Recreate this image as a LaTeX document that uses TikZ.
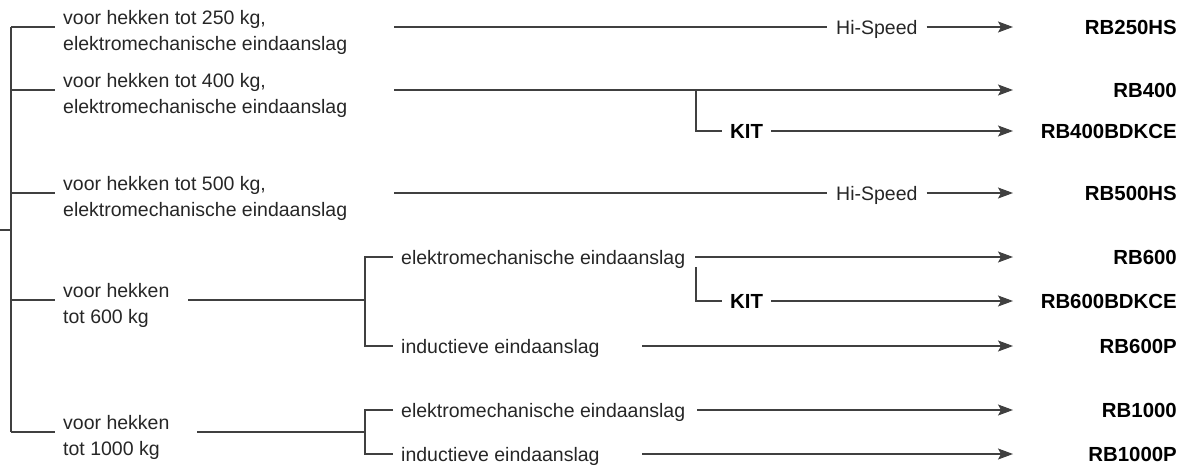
\documentclass[tikz,border=0pt]{standalone}
\usepackage{fontspec}
\setmainfont{Liberation Sans}
\usetikzlibrary{arrows.meta}
\begin{document}
\begin{tikzpicture}[x=1pt,y=-1pt,
  ln/.style={draw=black!75,line width=1.1pt},
  arr/.style={ln,-{Stealth[length=15pt,width=11pt,inset=3pt]}},
  lbl/.style={inner sep=0pt,font=\fontsize{19.5}{26}\selectfont,text=black!85,align=left,anchor=base west},
  opt/.style={inner sep=0pt,font=\fontsize{19.5}{26}\selectfont,text=black!85,text height=14pt,text depth=0pt,anchor=west},
  prod/.style={inner sep=0pt,font=\fontsize{20.4}{24}\selectfont\bfseries,text=black,text height=14.6pt,text depth=0pt,anchor=east},
  kitst/.style={inner sep=0pt,font=\fontsize{20.4}{24}\selectfont\bfseries,text=black,text height=14.6pt,text depth=0pt,anchor=west}
]
\useasboundingbox (0,0) rectangle (1180,466);
\coordinate (tip) at (1013,0);

% left tree
\coordinate (stub) at (0,230);
\coordinate (top) at (11,27);
\coordinate (bot) at (11,432);
\draw[ln] (top) -- (bot);
\draw[ln] (stub) -- (11,230);
\coordinate (b250) at (55,27);
\coordinate (b400) at (55,90);
\coordinate (b500) at (55,193);
\coordinate (b600) at (55,300);
\coordinate (b1000) at (55,432);
\draw[ln] (top) -- (b250);
\draw[ln] (top |- b400) -- (b400);
\draw[ln] (top |- b500) -- (b500);
\draw[ln] (top |- b600) -- (b600);
\draw[ln] (bot) -- (b1000);

% (base anchor of a two-line node = baseline of its last line)
\node[lbl] (t250) at (63,50.5) {voor hekken tot 250 kg,\\elektromechanische eindaanslag};
\node[lbl] (t400) at (63,113.5) {voor hekken tot 400 kg,\\elektromechanische eindaanslag};
\node[lbl] (t500) at (63,216.5) {voor hekken tot 500 kg,\\elektromechanische eindaanslag};
\node[lbl] (t600) at (63,323) {voor hekken\\tot 600 kg};
\node[lbl] (t1000) at (63,455.5) {voor hekken\\tot 1000 kg};

% row 250
\coordinate (s250) at (394,27);
\node[opt] (hs250) at (836,27) {Hi-Speed};
\node[prod] (r250) at (1177,27) {RB250HS};
\draw[ln] (s250) -- ([xshift=-9pt]hs250.west);
\draw[arr] ([xshift=9pt]hs250.east) -- (r250.west -| tip);

% row 400
\coordinate (s400) at (394,90);
\node[prod] (r400) at (1177,90) {RB400};
\draw[arr] (s400) -- (r400.west -| tip);
\coordinate (k400) at (696,90);
\node[kitst] (kit400) at (730,131) {KIT};
\node[prod] (r400k) at (1177,131) {RB400BDKCE};
\draw[ln] (k400) |- ([xshift=-8pt]kit400.west);
\draw[arr] ([xshift=8pt]kit400.east) -- (r400k.west -| tip);

% row 500
\coordinate (s500) at (394,193);
\node[opt] (hs500) at (836,193) {Hi-Speed};
\node[prod] (r500) at (1177,193) {RB500HS};
\draw[ln] (s500) -- ([xshift=-9pt]hs500.west);
\draw[arr] ([xshift=9pt]hs500.east) -- (r500.west -| tip);

% row 600
\coordinate (s600) at (188,300);
\coordinate (f600) at (365,300);
\draw[ln] (s600) -- (f600);
\node[opt] (em600) at (401,257) {elektromechanische eindaanslag};
\node[opt] (ind600) at (401,346) {inductieve eindaanslag};
\draw[ln] ([xshift=-8pt]em600.west) -| (f600) |- ([xshift=-8pt]ind600.west);
\node[prod] (r600) at (1177,257) {RB600};
\coordinate (e600) at (695,257);
\draw[arr] (e600) -- (r600.west -| tip);
\coordinate (k600) at (696,267);
\node[kitst] (kit600) at (730,301) {KIT};
\node[prod] (r600k) at (1177,301) {RB600BDKCE};
\draw[ln] (k600) |- ([xshift=-8pt]kit600.west);
\draw[arr] ([xshift=8pt]kit600.east) -- (r600k.west -| tip);
\node[prod] (r600p) at (1177,346) {RB600P};
\coordinate (i600) at (642,346);
\draw[arr] (i600) -- (r600p.west -| tip);

% row 1000
\coordinate (s1000) at (197,432);
\coordinate (f1000) at (365,432);
\draw[ln] (s1000) -- (f1000);
\node[opt] (em1000) at (401,410) {elektromechanische eindaanslag};
\node[opt] (ind1000) at (401,454) {inductieve eindaanslag};
\draw[ln] ([xshift=-8pt]em1000.west) -| (f1000) |- ([xshift=-8pt]ind1000.west);
\node[prod] (r1000) at (1177,410) {RB1000};
\coordinate (e1000) at (697,410);
\draw[arr] (e1000) -- (r1000.west -| tip);
\node[prod] (r1000p) at (1177,454) {RB1000P};
\coordinate (i1000) at (642,454);
\draw[arr] (i1000) -- (r1000p.west -| tip);
\end{tikzpicture}
\end{document}
